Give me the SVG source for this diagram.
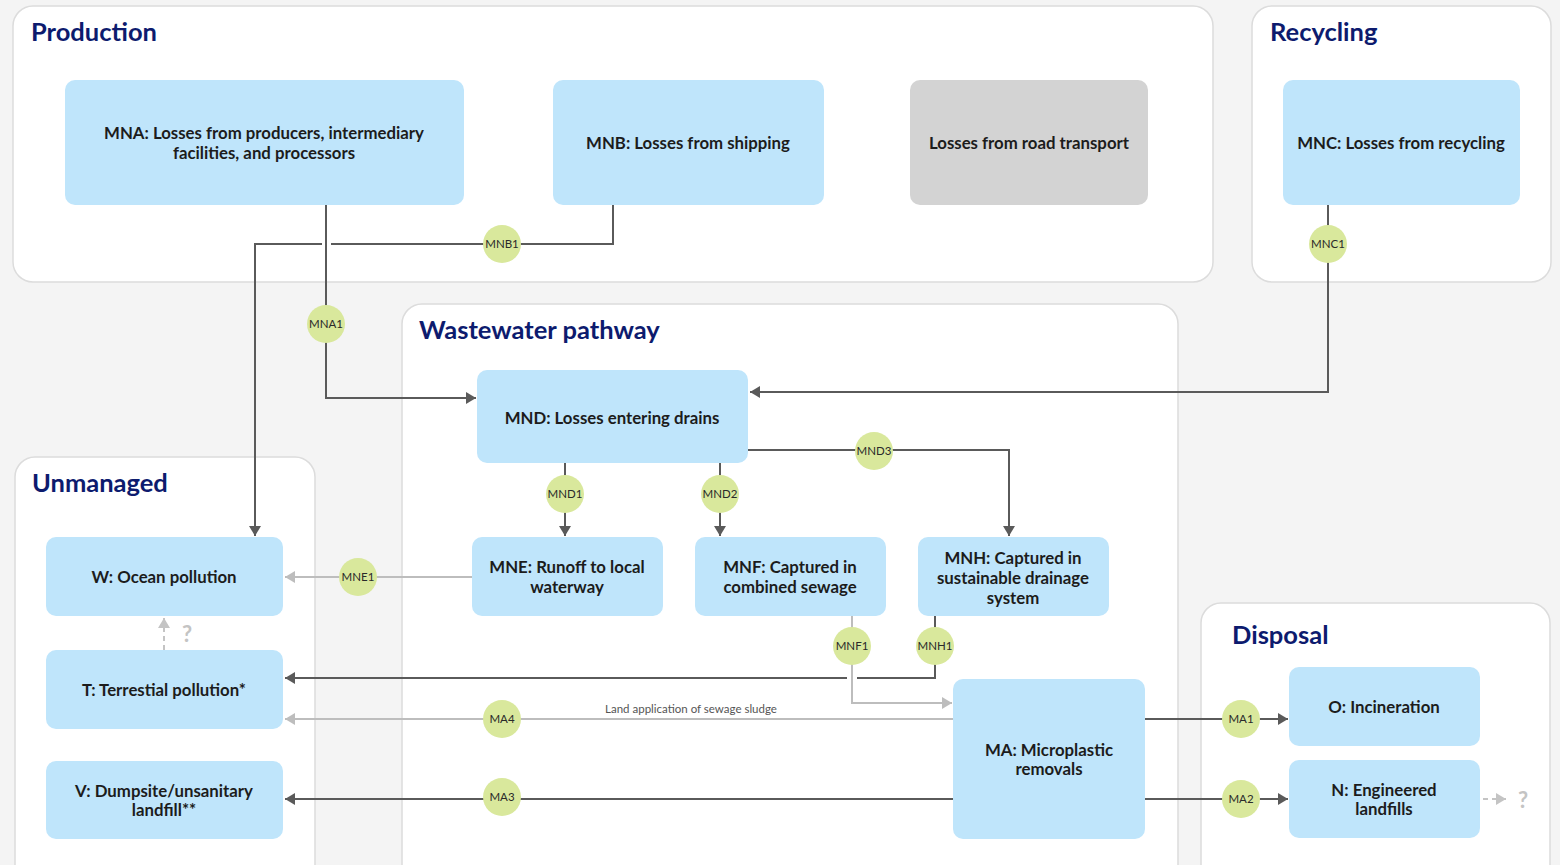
<svg xmlns="http://www.w3.org/2000/svg" width="1560" height="865" viewBox="0 0 1560 865">
<style>
.panel{fill:#ffffff;stroke:#dcdcdc;stroke-width:1.5}
.title{font-family:Lato,"Open Sans","Liberation Sans",sans-serif;font-weight:700;font-size:25.5px;fill:#0d1b6e}
.node{fill:#bfe5fb}
.gray{fill:#d3d3d3}
.nt{font-family:Lato,"Open Sans","Liberation Sans",sans-serif;font-weight:700;font-size:16.8px;fill:#1c1c1c;text-anchor:middle}
.dk{fill:none;stroke:#5a5a5a;stroke-width:2}
.lt{fill:none;stroke:#bdbdbd;stroke-width:2}
.dash{fill:none;stroke:#c4c4c4;stroke-width:2;stroke-dasharray:5 4}
.badge{fill:#d9e89c}
.bt{font-family:Lato,"Open Sans","Liberation Sans",sans-serif;font-size:11.5px;fill:#2a2a2a;text-anchor:middle}
.lbl{font-family:Lato,"Open Sans","Liberation Sans",sans-serif;font-size:11.5px;fill:#555;text-anchor:middle}
.q{font-family:Lato,"Open Sans","Liberation Sans",sans-serif;font-weight:700;font-size:22px;fill:#c4c4c4;text-anchor:middle}
</style>
<defs>
<marker id="ad" viewBox="0 0 10 12" refX="10" refY="6" markerWidth="10" markerHeight="12" markerUnits="userSpaceOnUse" orient="auto"><path d="M0,0 L10,6 L0,12 z" fill="#5a5a5a"/></marker>
<marker id="al" viewBox="0 0 10 12" refX="10" refY="6" markerWidth="10" markerHeight="12" markerUnits="userSpaceOnUse" orient="auto"><path d="M0,0 L10,6 L0,12 z" fill="#bdbdbd"/></marker>
<marker id="aq" viewBox="0 0 10 12" refX="10" refY="6" markerWidth="10" markerHeight="12" markerUnits="userSpaceOnUse" orient="auto"><path d="M0,0 L10,6 L0,12 z" fill="#c4c4c4"/></marker>
</defs>
<rect width="1560" height="865" fill="#f4f4f4"/>

<g id="panels">
<rect class="panel" x="13" y="6" width="1200" height="276" rx="20"/>
<text class="title" x="31" y="41">Production</text>
<rect class="panel" x="1252" y="6" width="299" height="276" rx="20"/>
<text class="title" x="1270" y="41">Recycling</text>
<rect class="panel" x="402" y="304" width="776" height="620" rx="20"/>
<text class="title" x="419" y="339">Wastewater pathway</text>
<rect class="panel" x="15" y="457" width="300" height="460" rx="20"/>
<text class="title" x="32" y="492">Unmanaged</text>
<rect class="panel" x="1201" y="603" width="349" height="320" rx="20"/>
<text class="title" x="1232" y="644">Disposal</text>
</g>

<g id="connectors">
<polyline class="dk" points="613,205 613,244 331,244"/>
<polyline class="dk" points="322,244 255,244 255,536" marker-end="url(#ad)"/>
<polyline class="dk" points="326,205 326,398 476,398" marker-end="url(#ad)"/>
<polyline class="dk" points="1328,205 1328,392 750,392" marker-end="url(#ad)"/>
<polyline class="dk" points="565,463 565,536" marker-end="url(#ad)"/>
<polyline class="dk" points="720,463 720,536" marker-end="url(#ad)"/>
<polyline class="dk" points="748,450 1009,450 1009,536" marker-end="url(#ad)"/>
<polyline class="lt" points="472,577 285,577" marker-end="url(#al)"/>
<polyline class="dash" points="164,650 164,618" marker-end="url(#aq)"/>
<polyline class="dk" points="935,616 935,678 857,678"/>
<polyline class="dk" points="847,678 285,678" marker-end="url(#ad)"/>
<polyline class="lt" points="852,616 852,703 952,703" marker-end="url(#al)"/>
<polyline class="lt" points="953,719 285,719" marker-end="url(#al)"/>
<polyline class="dk" points="953,799 285,799" marker-end="url(#ad)"/>
<polyline class="dk" points="1145,719 1288,719" marker-end="url(#ad)"/>
<polyline class="dk" points="1145,799 1288,799" marker-end="url(#ad)"/>
<polyline class="dash" points="1483,799 1506,799" marker-end="url(#aq)"/>
<text class="lbl" x="691" y="713">Land application of sewage sludge</text>
<text class="q" x="187" y="642">?</text>
<text class="q" x="1523" y="808">?</text>
<circle class="badge" cx="502" cy="244" r="19"/><text class="bt" x="502" y="248">MNB1</text>
<circle class="badge" cx="326" cy="324" r="19"/><text class="bt" x="326" y="328">MNA1</text>
<circle class="badge" cx="1328" cy="244" r="19"/><text class="bt" x="1328" y="248">MNC1</text>
<circle class="badge" cx="565" cy="494" r="19"/><text class="bt" x="565" y="498">MND1</text>
<circle class="badge" cx="720" cy="494" r="19"/><text class="bt" x="720" y="498">MND2</text>
<circle class="badge" cx="874" cy="451" r="19"/><text class="bt" x="874" y="455">MND3</text>
<circle class="badge" cx="358" cy="577" r="19"/><text class="bt" x="358" y="581">MNE1</text>
<circle class="badge" cx="852" cy="646" r="19"/><text class="bt" x="852" y="650">MNF1</text>
<circle class="badge" cx="935" cy="646" r="19"/><text class="bt" x="935" y="650">MNH1</text>
<circle class="badge" cx="502" cy="719" r="19"/><text class="bt" x="502" y="723">MA4</text>
<circle class="badge" cx="502" cy="797" r="19"/><text class="bt" x="502" y="801">MA3</text>
<circle class="badge" cx="1241" cy="719" r="19"/><text class="bt" x="1241" y="723">MA1</text>
<circle class="badge" cx="1241" cy="799" r="19"/><text class="bt" x="1241" y="803">MA2</text>
</g>

<g id="MNA"><rect class="node" x="65" y="80" width="399" height="125" rx="10"/>
<text class="nt" x="264" y="139">MNA: Losses from producers, intermediary</text><text class="nt" x="264" y="159">facilities, and processors</text></g>
<g id="MNB"><rect class="node" x="553" y="80" width="271" height="125" rx="10"/>
<text class="nt" x="688" y="149">MNB: Losses from shipping</text></g>
<g id="ROAD"><rect class="gray" x="910" y="80" width="238" height="125" rx="10"/>
<text class="nt" x="1029" y="149">Losses from road transport</text></g>
<g id="MNC"><rect class="node" x="1283" y="80" width="237" height="125" rx="10"/>
<text class="nt" x="1401" y="149">MNC: Losses from recycling</text></g>
<g id="MND"><rect class="node" x="477" y="370" width="271" height="93" rx="10"/>
<text class="nt" x="612" y="424">MND: Losses entering drains</text></g>
<g id="W"><rect class="node" x="46" y="537" width="237" height="79" rx="10"/>
<text class="nt" x="164" y="583">W: Ocean pollution</text></g>
<g id="MNE"><rect class="node" x="472" y="537" width="191" height="79" rx="10"/>
<text class="nt" x="567" y="573">MNE: Runoff to local</text><text class="nt" x="567" y="593">waterway</text></g>
<g id="MNF"><rect class="node" x="695" y="537" width="191" height="79" rx="10"/>
<text class="nt" x="790" y="573">MNF: Captured in</text><text class="nt" x="790" y="593">combined sewage</text></g>
<g id="MNH"><rect class="node" x="918" y="537" width="191" height="79" rx="10"/>
<text class="nt" x="1013" y="564">MNH: Captured in</text><text class="nt" x="1013" y="584">sustainable drainage</text><text class="nt" x="1013" y="604">system</text></g>
<g id="T"><rect class="node" x="46" y="650" width="237" height="79" rx="10"/>
<text class="nt" x="164" y="696">T: Terrestial pollution*</text></g>
<g id="V"><rect class="node" x="46" y="761" width="237" height="78" rx="10"/>
<text class="nt" x="164" y="797">V: Dumpsite/unsanitary</text><text class="nt" x="164" y="816">landfill**</text></g>
<g id="MA"><rect class="node" x="953" y="679" width="192" height="160" rx="10"/>
<text class="nt" x="1049" y="756">MA: Microplastic</text><text class="nt" x="1049" y="775">removals</text></g>
<g id="O"><rect class="node" x="1289" y="667" width="191" height="79" rx="10"/>
<text class="nt" x="1384" y="713">O: Incineration</text></g>
<g id="N"><rect class="node" x="1289" y="760" width="191" height="78" rx="10"/>
<text class="nt" x="1384" y="796">N: Engineered</text><text class="nt" x="1384" y="815">landfills</text></g>
</svg>
